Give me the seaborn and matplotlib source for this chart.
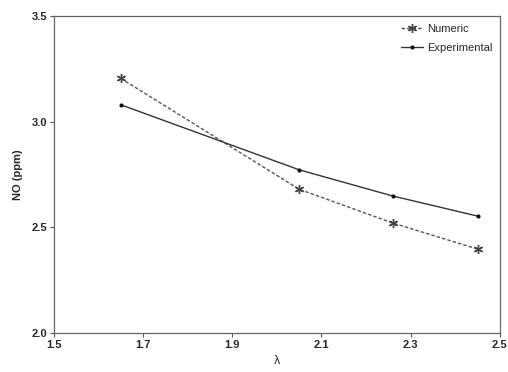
import seaborn as sns
import pandas as pd
import matplotlib.pyplot as plt

lam = [1.65, 2.05, 2.26, 2.45]
numeric = [3.205, 2.68, 2.52, 2.397]
experimental = [3.08, 2.772, 2.648, 2.553]

sns.set_style('ticks')
plt.rcParams['font.family'] = ['Liberation Sans', 'DejaVu Sans']

df = pd.DataFrame({'lam': lam * 2,
                   'no': numeric + experimental,
                   'series': ['Numeric'] * 4 + ['Experimental'] * 4})

fig = plt.figure(figsize=(5.08, 3.72), dpi=100)
ax = fig.add_axes([0.106, 0.105, 0.878, 0.852])

sns.lineplot(data=df[df.series == 'Numeric'], x='lam', y='no', ax=ax,
             color='#555555', linestyle=(0, (2.5, 1.5)), linewidth=1.0,
             marker=(6, 2, 0), markersize=6.5, markeredgewidth=1.0,
             markeredgecolor='#444444', label='Numeric')
sns.lineplot(data=df[df.series == 'Experimental'], x='lam', y='no', ax=ax,
             color='#333333', linewidth=1.0,
             marker='o', markersize=3, markeredgewidth=0,
             markerfacecolor='#111111', label='Experimental')

ax.set_xlim(1.5, 2.5)
ax.set_ylim(2.0, 3.5)
ax.set_xticks([1.5, 1.7, 1.9, 2.1, 2.3, 2.5])
ax.set_yticks([2.0, 2.5, 3.0, 3.5])
ax.set_xticklabels(['1.5', '1.7', '1.9', '2.1', '2.3', '2.5'], fontweight='bold', fontsize=8)
ax.set_yticklabels(['2.0', '2.5', '3.0', '3.5'], fontweight='bold', fontsize=8)
ax.tick_params(direction='out', length=3, width=0.8, color='#555555', pad=2)
for s in ax.spines.values():
    s.set_color('#666666')
    s.set_linewidth(0.9)

ax.set_xlabel('λ', fontsize=9, labelpad=4)
ax.set_ylabel('NO (ppm)', fontsize=8, fontweight='bold', labelpad=6)

leg = ax.legend(loc='upper right', frameon=False, fontsize=8, handlelength=2.0,
                handletextpad=0.3, labelspacing=0.8, borderaxespad=0.3)

fig.savefig('out.png', dpi=100)
